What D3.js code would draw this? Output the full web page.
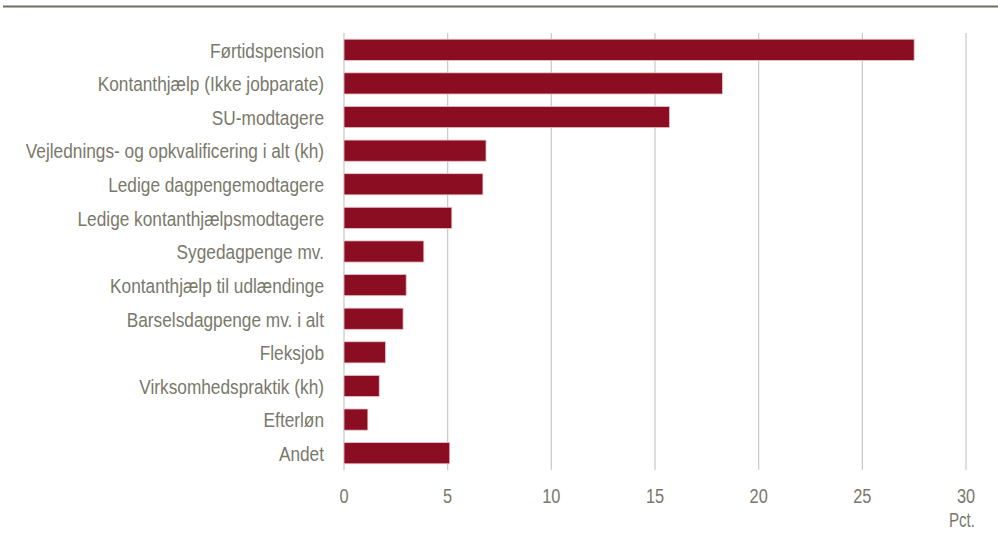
<!DOCTYPE html>
<html>
<head>
  <meta charset="utf-8">
  <script src="https://d3js.org/d3.v7.min.js"></script>
  <style>
    body { margin: 0; background: #fff; }
    text { font-family: "Liberation Sans", Arial, sans-serif; fill: #79796a; }
  </style>
</head>
<body>
<div id="chart"></div>
<script>
const categories = [
  "Førtidspension",
  "Kontanthjælp (Ikke jobparate)",
  "SU-modtagere",
  "Vejlednings- og opkvalificering i alt (kh)",
  "Ledige dagpengemodtagere",
  "Ledige kontanthjælpsmodtagere",
  "Sygedagpenge mv.",
  "Kontanthjælp til udlændinge",
  "Barselsdagpenge mv. i alt",
  "Fleksjob",
  "Virksomhedspraktik (kh)",
  "Efterløn",
  "Andet"
];
const values = [27.5, 18.25, 15.7, 6.85, 6.7, 5.2, 3.85, 3.0, 2.85, 2.0, 1.7, 1.15, 5.1];
const ticks = [0, 5, 10, 15, 20, 25, 30];
const unitLabel = "Pct.";

const width = 998, height = 540;
const svg = d3.select("#chart").append("svg")
  .attr("width", width).attr("height", height);

// top rule
svg.append("rect").attr("x", 3).attr("y", 5.5).attr("width", width - 3).attr("height", 2)
  .attr("fill", "#6e6e5c");

const x = d3.scaleLinear().domain([0, 30]).range([344, 966]);
const y = d3.scaleBand().domain(categories).range([33, 470]).paddingInner(0.37).paddingOuter(0.185);

// grid lines
svg.selectAll("line.grid").data(ticks).enter().append("line")
  .attr("class", "grid")
  .attr("x1", d => x(d)).attr("x2", d => x(d))
  .attr("y1", 33).attr("y2", 470)
  .attr("stroke", "#c9c9c0").attr("stroke-width", 1.2);

// bars
svg.selectAll("rect.bar").data(values).enter().append("rect")
  .attr("class", "bar")
  .attr("x", x(0))
  .attr("y", (d, i) => y(categories[i]))
  .attr("width", d => x(d) - x(0))
  .attr("height", y.bandwidth())
  .attr("fill", "#8a0d22")
  .attr("stroke", "#e8c4ca").attr("stroke-width", 0.8);

// category labels (squeezed horizontally for the condensed look)
svg.selectAll("text.cat").data(categories).enter().append("text")
  .attr("class", "cat")
  .attr("transform", d => `translate(324,${y(d) + y.bandwidth() / 2}) scale(0.885,1)`)
  .attr("dy", "0.4em")
  .attr("text-anchor", "end")
  .style("font-size", "19.5px")
  .text(d => d);

// tick labels
svg.selectAll("text.tick").data(ticks).enter().append("text")
  .attr("class", "tick")
  .attr("transform", d => `translate(${x(d)},503) scale(0.78,1)`)
  .attr("text-anchor", "middle")
  .style("font-size", "21px")
  .text(d => d);

svg.append("text")
  .attr("transform", `translate(975,527) scale(0.72,1)`)
  .attr("text-anchor", "end")
  .style("font-size", "21px")
  .text(unitLabel);
</script>
</body>
</html>
